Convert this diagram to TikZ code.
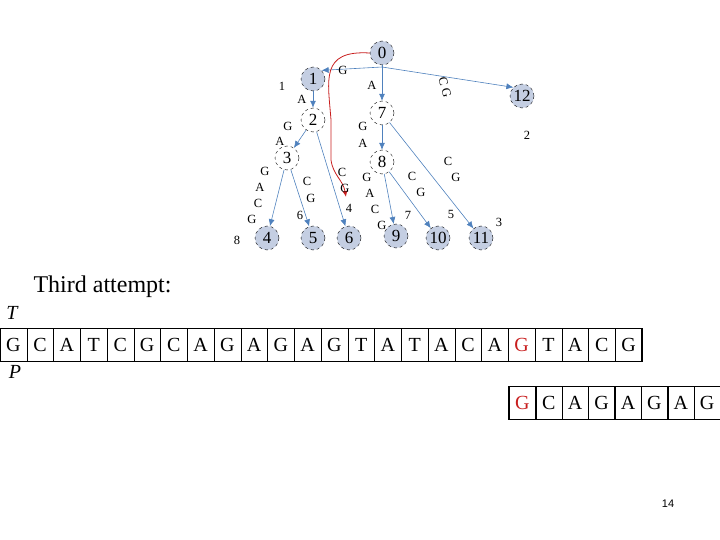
\documentclass[tikz,border=0pt]{standalone}
\usepackage{fontspec}
\setmainfont{Liberation Serif}
\setsansfont{Liberation Sans}
\usetikzlibrary{arrows.meta}
\definecolor{eb}{RGB}{79,129,189}
\definecolor{nf}{RGB}{196,206,226}
\definecolor{rd}{RGB}{200,30,30}
\begin{document}
\begin{tikzpicture}[x=1pt,y=-1pt,
 tn/.style={circle,draw=black,dashed,inner sep=0pt,minimum size=24pt,font=\fontsize{17}{17}\selectfont},
 fn/.style={tn,fill=nf},
 en/.style={draw=eb,semithick,-{Latex[length=7pt,width=6pt]}},
 lb/.style={font=\fontsize{12.5}{12.5}\selectfont,inner sep=0pt},
 cell/.style={draw=black,minimum width=26.75pt,minimum height=33pt,inner sep=0pt,font=\fontsize{20}{20}\selectfont}]
\useasboundingbox (0,0) rectangle (720,540);
\node[fn] (n0) at (382,53) {0};
\node[fn] (n1) at (313,79) {1};
\node[fn] (n12) at (522,96) {12};
\node[tn] (n7) at (382,113) {7};
\node[tn] (n2) at (313,120) {2};
\node[tn] (n3) at (287,158) {3};
\node[tn] (n8) at (382,162) {8};
\node[fn] (n4) at (267,238) {4};
\node[fn] (n5) at (313,238) {5};
\node[fn] (n6) at (349,238) {6};
\node[fn] (n9) at (396,236) {9};
\node[fn] (n10) at (438,238) {10};
\node[fn] (n11) at (481,238) {11};
\coordinate (h0) at (382,67);
\draw[en] (h0) -- (n1.north east);
\draw[en] (h0) -- (n12.north west);
\draw[en] (n0) -- (n7);
\draw[en,thick] (n1) -- (n2);
\draw[en] (n2) -- (n3);
\draw[en] (n2) -- (n6);
\draw[en] (n3) -- (n4);
\draw[en] (n3) -- (n5);
\draw[en] (n7) -- (n8);
\draw[en] (n7) -- (n11);
\draw[en] (n8) -- (n9);
\draw[en] (n8) -- (n10);
\coordinate (rt) at (346,197);
\draw[draw=rd,thick,-{Latex[length=6pt,width=5pt]}] (n0.west) .. controls (320,50) and (328,80) .. (331,120) -- (331,160) .. controls (333,175) and (343,180) .. (rt);
\node[lb] (l1) at (343,70) {G};
\node[lb] (l2) at (372,85) {A};
\node[lb,rotate=-75] (l3) at (445,87) {C G};
\node[lb] (l4) at (282,86) {1};
\node[lb] (l5) at (302,99) {A};
\node[lb] (l6) at (288,126) {G};
\node[lb] (l7) at (280,141) {A};
\node[lb] (l8) at (527,135) {2};
\node[lb] (l9) at (363,126) {G};
\node[lb] (l10) at (363,143) {A};
\node[lb] (l11) at (265,171) {G};
\node[lb] (l12) at (260,187) {A};
\node[lb] (l13) at (258,203) {C};
\node[lb] (l14) at (252,219) {G};
\node[lb] (l15) at (307,181) {C};
\node[lb] (l16) at (311,198) {G};
\node[lb] (l17) at (300,215) {6};
\node[lb] (l18) at (342,172) {C};
\node[lb] (l19) at (345,188) {G};
\node[lb] (l20) at (349,208) {4};
\node[lb] (l21) at (367,177) {G};
\node[lb] (l22) at (370,193) {A};
\node[lb] (l23) at (375,209) {C};
\node[lb] (l24) at (382,225) {G};
\node[lb] (l25) at (408,215) {7};
\node[lb] (l26) at (412,176) {C};
\node[lb] (l27) at (421,192) {G};
\node[lb] (l28) at (451,214) {5};
\node[lb] (l29) at (448,161) {C};
\node[lb] (l30) at (456,177) {G};
\node[lb] (l31) at (499,222) {3};
\node[lb] (l32) at (237,240) {8};
\node[anchor=west,font=\fontsize{24}{24}\selectfont] (ta) at (30,287) {Third attempt:};
\node[font=\fontsize{20}{20}\selectfont\itshape] (tl) at (12,313) {T};
\node[font=\fontsize{20}{20}\selectfont\itshape] (pl) at (15,372) {P};
\foreach \c [count=\i from 0] in {G,C,A,T,C,G,C,A,G,A,G,A,G,T,A,T,A,C,A,G,T,A,C,G}{
  \ifnum\i=19
   \node[cell,text=rd] (t\i) at ({13.4+26.75*\i},345) {\c};
  \else
   \node[cell] (t\i) at ({13.4+26.75*\i},345) {\c};
  \fi}
\draw[very thick] (0,328.5) rectangle (642,361.5);
\foreach \c [count=\i from 0] in {G,C,A,G,A,G,A,G}{
  \ifnum\i=0
   \node[cell,text=rd] (p\i) at ({522.4+26.4*\i},403) {\c};
  \else
   \node[cell] (p\i) at ({522.4+26.4*\i},403) {\c};
  \fi}
\draw[very thick] (509,386.5) rectangle (722,419.5);
\node[font=\sffamily\fontsize{11}{11}\selectfont] (pg) at (668,504) {14};
\end{tikzpicture}
\end{document}
